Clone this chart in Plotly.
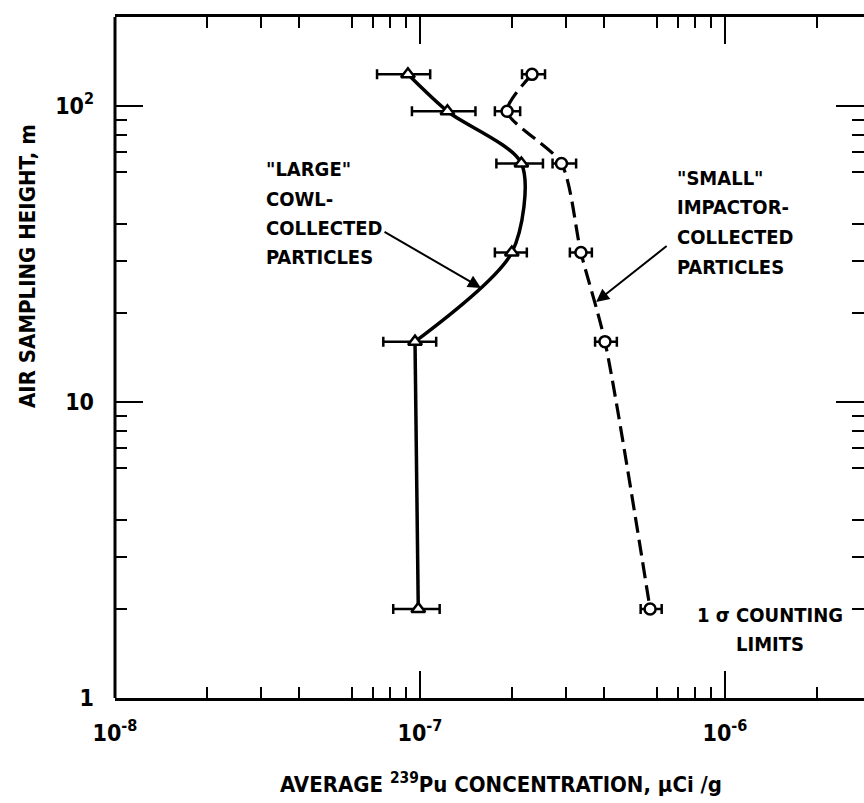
import math
import plotly.graph_objects as go

# ---------------- data ----------------
heights = [128, 96, 64, 32, 16, 2]  # air sampling height, m

# "LARGE" cowl-collected particles (triangles)
large_conc = [9.13e-8, 1.23e-7, 2.15e-7, 2.00e-7, 9.63e-8, 9.87e-8]
large_lo = [7.23e-8, 9.41e-8, 1.78e-7, 1.76e-7, 7.58e-8, 8.17e-8]
large_hi = [1.08e-7, 1.52e-7, 2.53e-7, 2.24e-7, 1.13e-7, 1.16e-7]

# "SMALL" impactor-collected particles (circles)
small_conc = [2.33e-7, 1.93e-7, 2.91e-7, 3.37e-7, 4.04e-7, 5.68e-7]
small_lo = [2.16e-7, 1.76e-7, 2.72e-7, 3.10e-7, 3.75e-7, 5.29e-7]
small_hi = [2.57e-7, 2.13e-7, 3.25e-7, 3.66e-7, 4.42e-7, 6.20e-7]

x_tickvals = [1e-8, 1e-7, 1e-6]
x_ticktext = ["10<sup>-8</sup>", "10<sup>-7</sup>", "10<sup>-6</sup>"]
y_tickvals = [1, 10, 100]
y_ticktext = ["1", "10", "10<sup>2</sup>"]

large_label = ['"LARGE"', "COWL-", "COLLECTED", "PARTICLES"]
small_label = ['"SMALL"', "IMPACTOR-", "COLLECTED", "PARTICLES"]
sigma_label = ["1 σ COUNTING", "LIMITS"]
x_title = "AVERAGE <sup>239</sup>Pu CONCENTRATION, µCi /g"
y_title = "AIR SAMPLING HEIGHT, m"

# arrow targets on the curves (value space)
large_arrow_at = (1.585e-7, 24.3)
small_arrow_at = (3.78e-7, 21.8)

# ---------------- styling / layout helpers ----------------
FONT = "DejaVu Sans Condensed, DejaVu Sans, Liberation Sans Narrow, sans-serif"
W, H = 864, 803
ML, MR, MT, MB = 115, 0, 17, 105
PW, PH = W - ML - MR, H - MT - MB


def pxx(x):
    return (x - ML) / PW


def pxy(y):
    return (H - MB - y) / PH


XR = [-8, -8 + PW / 305.0]
YR = [0, math.log10(200)]

minor_x = [m * 10 ** e for e in (-8, -7, -6) for m in (2, 3, 4, 6, 7, 8, 9)]
mid_x = [5 * 10 ** e for e in (-8, -7, -6)]
minor_y = [m * 10 ** e for e in (0, 1, 2) for m in (2, 3, 4, 6, 7, 8, 9)]
mid_y = [5 * 10 ** e for e in (0, 1)]

fig = go.Figure()

# large: smooth curve through upper five points, straight segment to the lowest
fig.add_trace(go.Scatter(
    x=large_conc[:5], y=heights[:5], mode="lines",
    line=dict(color="black", width=3.5, shape="spline", smoothing=0.8),
    hoverinfo="skip", showlegend=False))
fig.add_trace(go.Scatter(
    x=large_conc[4:], y=heights[4:], mode="lines",
    line=dict(color="black", width=3.5),
    hoverinfo="skip", showlegend=False))
# small: dashed curve
fig.add_trace(go.Scatter(
    x=small_conc, y=heights, mode="lines",
    line=dict(color="black", width=3.2, dash="16px,7px", shape="spline", smoothing=0.7),
    hoverinfo="skip", showlegend=False))

err_l = dict(type="data", symmetric=False,
             array=[h - c for h, c in zip(large_hi, large_conc)],
             arrayminus=[c - l for c, l in zip(large_conc, large_lo)],
             color="black", thickness=2.5, width=5)
err_s = dict(type="data", symmetric=False,
             array=[h - c for h, c in zip(small_hi, small_conc)],
             arrayminus=[c - l for c, l in zip(small_conc, small_lo)],
             color="black", thickness=2.5, width=5)

fig.add_trace(go.Scatter(
    x=large_conc, y=heights, mode="markers", error_x=err_l,
    marker=dict(symbol="triangle-up", size=12, color="white",
                line=dict(color="black", width=2.5)),
    showlegend=False))
fig.add_trace(go.Scatter(
    x=small_conc, y=heights, mode="markers", error_x=err_s,
    marker=dict(symbol="circle", size=11, color="white",
                line=dict(color="black", width=2.5)),
    showlegend=False))

tickfont = dict(family=FONT, size=23, color="black", weight="bold")
common = dict(showgrid=False, zeroline=False, ticks="inside", tickcolor="black")

fig.update_layout(
    width=W, height=H,
    margin=dict(l=ML, r=MR, t=MT, b=MB),
    paper_bgcolor="white", plot_bgcolor="white",
    font=dict(family=FONT, color="black"),
    xaxis=dict(type="log", range=XR, tickmode="array", tickvals=x_tickvals,
               ticktext=x_ticktext, ticklen=27, tickwidth=2,
               showline=True, linecolor="black", linewidth=3, mirror="ticks",
               tickfont=tickfont, ticklabelstandoff=12,
               minor=dict(tickvals=minor_x, ticks="inside", ticklen=11,
                          tickwidth=2, tickcolor="black", showgrid=False),
               **common),
    xaxis2=dict(type="log", range=XR, overlaying="x", anchor="y", side="bottom",
                tickmode="array", tickvals=mid_x, ticklen=18, tickwidth=2,
                showticklabels=False, mirror="ticks", showline=False, **common),
    yaxis=dict(type="log", range=YR, tickmode="array", tickvals=y_tickvals,
               ticktext=y_ticktext, ticklen=28, tickwidth=2,
               showline=False, mirror="ticks",
               tickfont=tickfont, ticklabelstandoff=20,
               minor=dict(tickvals=minor_y, ticks="inside", ticklen=12,
                          tickwidth=2, tickcolor="black", showgrid=False),
               **common),
    yaxis2=dict(type="log", range=YR, overlaying="y", anchor="x", side="left",
                tickmode="array", tickvals=mid_y, ticklen=20, tickwidth=2,
                showticklabels=False, mirror="ticks", showline=False, **common),
)

# left frame line (right side is outside the picture)
fig.add_shape(type="line", xref="paper", yref="paper", x0=0, x1=0, y0=0, y1=1,
              line=dict(color="black", width=3))

ann_font = dict(family=FONT, size=20, color="black", weight="bold")
for txt, yc in zip(large_label, [169, 199, 228, 257]):
    fig.add_annotation(text=txt, xref="paper", yref="paper", x=pxx(264), y=pxy(yc),
                       xanchor="left", yanchor="middle", showarrow=False, font=ann_font)
for txt, yc in zip(small_label, [178, 207, 237, 267]):
    fig.add_annotation(text=txt, xref="paper", yref="paper", x=pxx(675), y=pxy(yc),
                       xanchor="left", yanchor="middle", showarrow=False, font=ann_font)
for txt, yc in zip(sigma_label, [615, 644]):
    fig.add_annotation(text=txt, xref="paper", yref="paper", x=pxx(770), y=pxy(yc),
                       xanchor="center", yanchor="middle", showarrow=False, font=ann_font)

# arrows
fig.add_annotation(x=math.log10(large_arrow_at[0]), y=math.log10(large_arrow_at[1]),
                   xref="x", yref="y", ax=-98, ay=-57, text="", showarrow=True,
                   arrowhead=2, arrowsize=1.3, arrowwidth=2, arrowcolor="black")
fig.add_annotation(x=math.log10(small_arrow_at[0]), y=math.log10(small_arrow_at[1]),
                   xref="x", yref="y", ax=72, ay=-57, text="", showarrow=True,
                   arrowhead=2, arrowsize=1.3, arrowwidth=2, arrowcolor="black")

# axis titles
title_font = dict(family=FONT, size=22, color="black", weight="bold")
fig.add_annotation(text=x_title, xref="paper", yref="paper", x=pxx(501), y=pxy(783),
                   xanchor="center", yanchor="middle", showarrow=False, font=title_font)
fig.add_annotation(text=y_title, xref="paper", yref="paper", x=pxx(27), y=pxy(266),
                   xanchor="center", yanchor="middle", textangle=-90, showarrow=False,
                   font=title_font)

fig.write_html("out.html", config={"displayModeBar": False},
               post_script="document.body.style.margin='0px';"
                           "document.body.style.padding='0px';")
